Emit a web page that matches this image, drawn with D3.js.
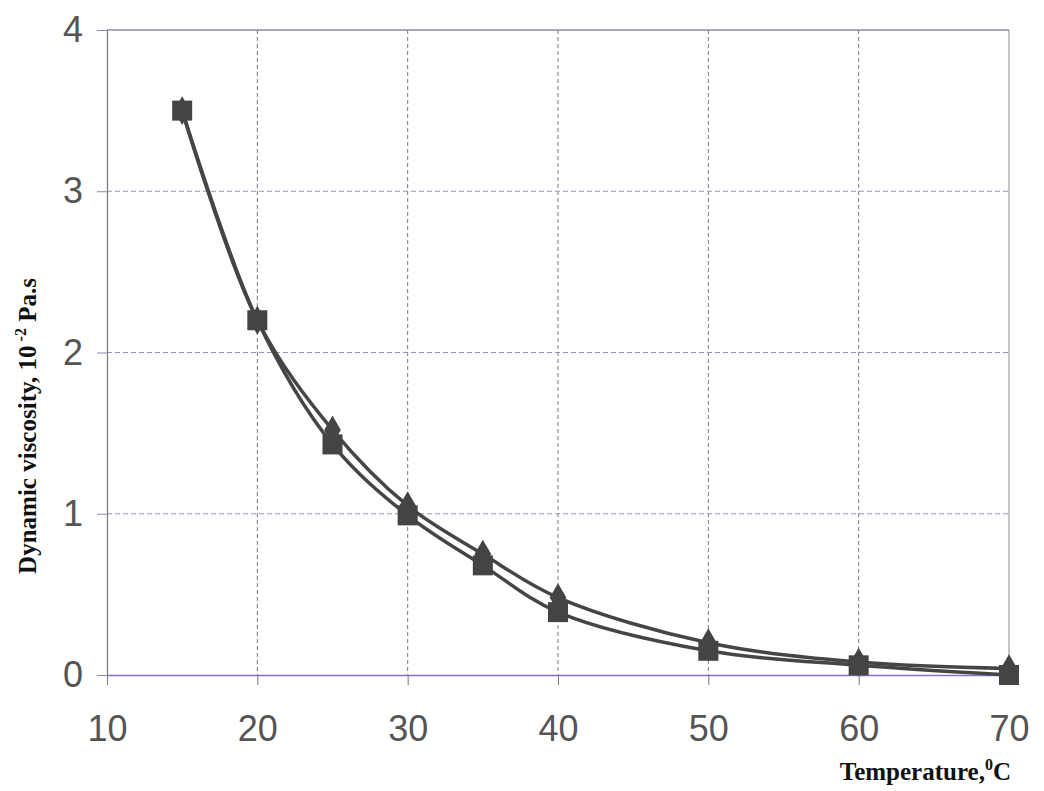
<!DOCTYPE html>
<html>
<head>
<meta charset="utf-8">
<script src="https://cdn.jsdelivr.net/npm/d3@7"></script>
<style>
  body { margin: 0; background: #fff; }
  svg { display: block; }
</style>
</head>
<body>
<div id="chart"></div>
<script>
// temperatures (°C) and viscosities (10^-2 Pa.s)
var temps = [15, 20, 25, 30, 35, 40, 50, 60, 70];
var seriesDiamond = [3.5, 2.2, 1.52, 1.05, 0.75, 0.48, 0.2, 0.08, 0.04];
var seriesSquare = [3.5, 2.2, 1.43, 0.99, 0.68, 0.39, 0.15, 0.06, 0.0];
var xTicks = [10, 20, 30, 40, 50, 60, 70];
var yTicks = [0, 1, 2, 3, 4];

var width = 1044, height = 791;
var margin = { top: 30, right: 35, bottom: 116, left: 107 };

var svg = d3.select("#chart")
    .append("svg")
    .attr("width", width)
    .attr("height", height);

var x = d3.scaleLinear().domain([10, 70]).range([margin.left, width - margin.right]);
var y = d3.scaleLinear().domain([0, 4]).range([height - margin.bottom, margin.top]);

// grid
svg.append("g")
    .selectAll("line")
    .data(xTicks.slice(1, -1))
    .enter().append("line")
    .attr("x1", d => x(d)).attr("x2", d => x(d))
    .attr("y1", y(4)).attr("y2", y(0))
    .attr("stroke", "#7a7a7a")
    .attr("stroke-width", 1)
    .attr("stroke-dasharray", "4,3");

svg.append("g")
    .selectAll("line")
    .data(yTicks.slice(1, -1))
    .enter().append("line")
    .attr("x1", x(10)).attr("x2", x(70))
    .attr("y1", d => y(d)).attr("y2", d => y(d))
    .attr("stroke", "#a08fc0")
    .attr("stroke-width", 1)
    .attr("stroke-dasharray", "5,3");

// frame
svg.append("line")
    .attr("x1", x(10)).attr("x2", x(70))
    .attr("y1", y(4)).attr("y2", y(4))
    .attr("stroke", "#8f86a8").attr("stroke-width", 1.5);
svg.append("line")
    .attr("x1", x(70)).attr("x2", x(70))
    .attr("y1", y(4)).attr("y2", y(0))
    .attr("stroke", "#8a8a8a").attr("stroke-width", 1);

// axes
var xAxis = svg.append("g")
    .attr("transform", `translate(0,${y(0)})`)
    .call(d3.axisBottom(x).tickValues(xTicks).tickSize(10).tickSizeOuter(0).tickPadding(30));
xAxis.select(".domain").attr("stroke", "#8a6fd0").attr("stroke-width", 1.5);
xAxis.selectAll(".tick line").attr("stroke", "#777");
xAxis.selectAll(".tick text")
    .attr("fill", "#555")
    .attr("font-family", "'Liberation Sans', Arial, sans-serif")
    .attr("font-size", "36px");

var yAxis = svg.append("g")
    .attr("transform", `translate(${x(10)},0)`)
    .call(d3.axisLeft(y).tickValues(yTicks).tickFormat(d3.format("d")).tickSize(10).tickSizeOuter(0).tickPadding(14));
yAxis.select(".domain").attr("stroke", "#777").attr("stroke-width", 1.2);
yAxis.selectAll(".tick line").attr("stroke", "#8f86a8");
yAxis.selectAll(".tick text")
    .attr("fill", "#555")
    .attr("font-family", "'Liberation Sans', Arial, sans-serif")
    .attr("font-size", "36px");

// lines
var line = d3.line()
    .x(d => x(d[0]))
    .y(d => y(d[1]))
    .curve(d3.curveCatmullRom);

var dataDiamond = temps.map((t, i) => [t, seriesDiamond[i]]);
var dataSquare = temps.map((t, i) => [t, seriesSquare[i]]);

svg.append("path")
    .datum(dataDiamond)
    .attr("fill", "none")
    .attr("stroke", "#454545")
    .attr("stroke-width", 3.5)
    .attr("d", line);

svg.append("path")
    .datum(dataSquare)
    .attr("fill", "none")
    .attr("stroke", "#454545")
    .attr("stroke-width", 3.5)
    .attr("d", line);

// markers
var diamond = d3.symbol().type(d3.symbolDiamond).size(240);
svg.append("g")
    .selectAll("path")
    .data(dataDiamond)
    .enter().append("path")
    .attr("transform", d => `translate(${x(d[0])},${y(d[1])})`)
    .attr("d", diamond)
    .attr("fill", "#444");

var s = 20;
svg.append("g")
    .selectAll("rect")
    .data(dataSquare)
    .enter().append("rect")
    .attr("x", d => x(d[0]) - s / 2)
    .attr("y", d => y(d[1]) - s / 2)
    .attr("width", s)
    .attr("height", s)
    .attr("fill", "#444");

// axis titles
var xt = svg.append("text")
    .attr("x", 1011)
    .attr("y", 780)
    .attr("text-anchor", "end")
    .attr("font-family", "'Liberation Serif', 'Times New Roman', serif")
    .attr("font-weight", "bold")
    .attr("font-size", "25px")
    .attr("fill", "#111");
xt.append("tspan").text("Temperature,");
xt.append("tspan").attr("dy", -10).attr("font-size", "16px").text("0");
xt.append("tspan").attr("dy", 10).text("C");

var yt = svg.append("text")
    .attr("transform", "translate(36,426) rotate(-90)")
    .attr("text-anchor", "middle")
    .attr("font-family", "'Liberation Serif', 'Times New Roman', serif")
    .attr("font-weight", "bold")
    .attr("font-size", "25px")
    .attr("fill", "#111");
yt.append("tspan").text("Dynamic viscosity, 10");
yt.append("tspan").attr("dy", -10).attr("font-size", "16px").text(" -2");
yt.append("tspan").attr("dy", 10).text(" Pa.s");
</script>
</body>
</html>
